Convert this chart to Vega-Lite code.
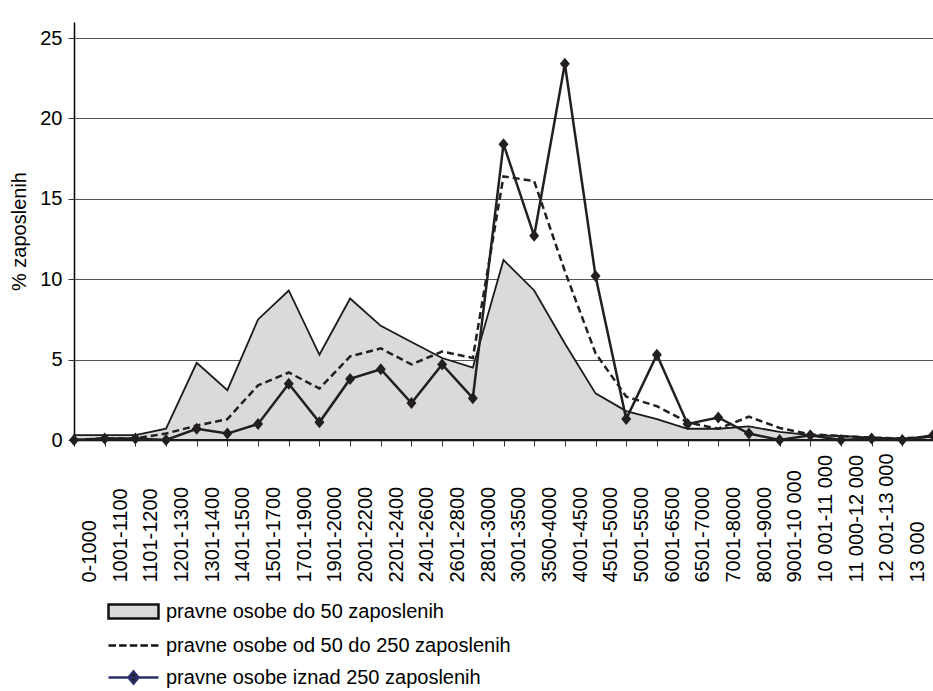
{
  "$schema": "https://vega.github.io/schema/vega-lite/v6.json",
  "width": 859,
  "height": 418,
  "autosize": {"type": "none"},
  "padding": {"left": 74, "top": 22, "right": 0, "bottom": 251},
  "background": "white",
  "config": {
    "font": "Liberation Sans",
    "view": {"stroke": null},
    "axis": {"labelColor": "#000", "titleColor": "#000", "labelFont": "Liberation Sans", "titleFont": "Liberation Sans"},
    "legend": {"labelFont": "Liberation Sans", "labelColor": "#000"}
  },
  "data": {
    "values": [
      {"razred": "0-1000", "do50": 0.3, "od50do250": 0.0, "iznad250": 0.0},
      {"razred": "1001-1100", "do50": 0.3, "od50do250": 0.1, "iznad250": 0.1},
      {"razred": "1101-1200", "do50": 0.3, "od50do250": 0.1, "iznad250": 0.1},
      {"razred": "1201-1300", "do50": 0.7, "od50do250": 0.4, "iznad250": 0.0},
      {"razred": "1301-1400", "do50": 4.8, "od50do250": 0.9, "iznad250": 0.7},
      {"razred": "1401-1500", "do50": 3.1, "od50do250": 1.3, "iznad250": 0.4},
      {"razred": "1501-1700", "do50": 7.5, "od50do250": 3.4, "iznad250": 1.0},
      {"razred": "1701-1900", "do50": 9.3, "od50do250": 4.2, "iznad250": 3.5},
      {"razred": "1901-2000", "do50": 5.3, "od50do250": 3.2, "iznad250": 1.1},
      {"razred": "2001-2200", "do50": 8.8, "od50do250": 5.2, "iznad250": 3.8},
      {"razred": "2201-2400", "do50": 7.1, "od50do250": 5.7, "iznad250": 4.4},
      {"razred": "2401-2600", "do50": 6.1, "od50do250": 4.7, "iznad250": 2.3},
      {"razred": "2601-2800", "do50": 5.1, "od50do250": 5.5, "iznad250": 4.7},
      {"razred": "2801-3000", "do50": 4.5, "od50do250": 5.1, "iznad250": 2.6},
      {"razred": "3001-3500", "do50": 11.2, "od50do250": 16.4, "iznad250": 18.4},
      {"razred": "3500-4000", "do50": 9.3, "od50do250": 16.1, "iznad250": 12.7},
      {"razred": "4001-4500", "do50": 6.0, "od50do250": 10.5, "iznad250": 23.4},
      {"razred": "4501-5000", "do50": 2.9, "od50do250": 5.4, "iznad250": 10.2},
      {"razred": "5001-5500", "do50": 1.8, "od50do250": 2.7, "iznad250": 1.3},
      {"razred": "6001-6500", "do50": 1.3, "od50do250": 2.1, "iznad250": 5.3},
      {"razred": "6501-7000", "do50": 0.7, "od50do250": 1.1, "iznad250": 1.0},
      {"razred": "7001-8000", "do50": 0.7, "od50do250": 0.7, "iznad250": 1.4},
      {"razred": "8001-9000", "do50": 0.85, "od50do250": 1.45, "iznad250": 0.4},
      {"razred": "9001-10 000", "do50": 0.5, "od50do250": 0.75, "iznad250": 0.0},
      {"razred": "10 001-11 000", "do50": 0.3, "od50do250": 0.35, "iznad250": 0.3},
      {"razred": "11 000-12 000", "do50": 0.25, "od50do250": 0.25, "iznad250": 0.0},
      {"razred": "12 001-13 000", "do50": 0.15, "od50do250": 0.15, "iznad250": 0.1},
      {"razred": "13 000", "do50": 0.1, "od50do250": 0.1, "iznad250": 0.0},
      {"razred": "", "do50": 0.2, "od50do250": 0.2, "iznad250": 0.3}
    ]
  },
  "encoding": {
    "x": {
      "field": "razred",
      "type": "ordinal",
      "sort": null,
      "scale": {"type": "point", "padding": 0},
      "axis": {
        "title": null,
        "labelAngle": 270,
        "labelAlign": "left",
        "labelBaseline": "middle",
        "labelOffset": 15.34,
        "labelPadding": 136,
        "labelFontSize": 20,
        "labelOverlap": false,
        "labelFlush": false,
        "tickSize": 6,
        "tickColor": "#333",
        "tickWidth": 1,
        "domainColor": "#000",
        "domainWidth": 1.5,
        "grid": false
      }
    }
  },
  "layer": [
    {
      "mark": {"type": "area", "fill": "#d9dadc", "stroke": "#1a1a1a", "strokeWidth": 1.8, "opacity": 1},
      "encoding": {
        "y": {
          "field": "do50",
          "type": "quantitative",
          "scale": {"domain": [0, 25]},
          "axis": {
            "title": "% zaposlenih",
            "titleFontSize": 20,
            "titleFontWeight": "normal",
            "titlePadding": 10,
            "values": [0, 5, 10, 15, 20, 25],
            "labelFontSize": 20,
            "labelPadding": 6,
            "tickSize": 6,
            "tickColor": "#333",
            "domainColor": "#000",
            "domainWidth": 1.5,
            "grid": true,
            "gridColor": "#555",
            "gridWidth": 1
          }
        }
      }
    },
    {
      "mark": {"type": "line", "color": "#231f20", "strokeWidth": 2.5, "strokeDash": [7, 4]},
      "encoding": {"y": {"field": "od50do250", "type": "quantitative"}}
    },
    {
      "mark": {"type": "line", "color": "#231f20", "strokeWidth": 2.5},
      "encoding": {"y": {"field": "iznad250", "type": "quantitative"}}
    },
    {
      "mark": {"type": "point", "filled": true, "opacity": 1, "size": 400, "strokeWidth": 0},
      "encoding": {
        "y": {"field": "iznad250", "type": "quantitative"},
        "fill": {
          "datum": "pravne osobe iznad 250 zaposlenih",
          "scale": {
            "domain": ["pravne osobe do 50 zaposlenih", "pravne osobe od 50 do 250 zaposlenih", "pravne osobe iznad 250 zaposlenih"],
            "range": ["#d9dadc", "transparent", "#231f20"]
          },
          "legend": null
        },
        "stroke": {
          "datum": "pravne osobe iznad 250 zaposlenih",
          "scale": {
            "domain": ["pravne osobe do 50 zaposlenih", "pravne osobe od 50 do 250 zaposlenih", "pravne osobe iznad 250 zaposlenih"],
            "range": ["#111111", "#111111", "#2a2f6a"]
          },
          "legend": null
        },
        "shape": {
          "datum": "pravne osobe iznad 250 zaposlenih",
          "scale": {
            "domain": ["pravne osobe do 50 zaposlenih", "pravne osobe od 50 do 250 zaposlenih", "pravne osobe iznad 250 zaposlenih"],
            "range": [
              "M-2.5,-0.7H2.5V0.7H-2.5Z",
              "M-2.5,0h0.75M-1.44,0h0.75M-0.375,0h0.75M0.69,0h0.75M1.75,0h0.75",
              "M-2.5,0H2.5M0,-0.6L0.5,0L0,0.6L-0.5,0Z"
            ]
          },
          "legend": {
            "title": null,
            "orient": "none",
            "legendX": 48,
            "legendY": 578,
            "direction": "vertical",
            "symbolSize": 400,
            "symbolStrokeWidth": 2.5,
            "labelFontSize": 20,
            "labelOffset": 21,
            "labelLimit": 0,
            "rowPadding": 10,
            "padding": 0,
            "encode": {
              "symbols": {
                "strokeWidth": {"value": 2.5},
                "opacity": {"value": 1}
              }
            }
          }
        }
      }
    }
  ]
}
